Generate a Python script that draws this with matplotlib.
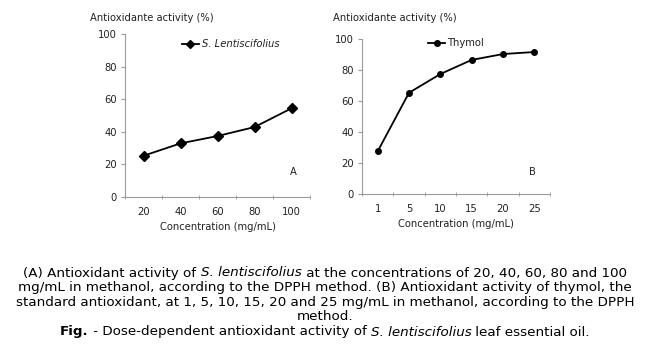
import matplotlib
matplotlib.use("Agg")
import matplotlib.pyplot as plt
from matplotlib.ticker import FixedLocator, NullFormatter

# Data
conc_a = ["20", "40", "60", "80", "100"]
act_a = [25.3, 32.9, 37.4, 42.9, 54.4]
conc_b = ["1", "5", "10", "15", "20", "25"]
act_b = [27.5, 65.3, 77.4, 86.5, 90.3, 91.6]
yticks = [0, 20, 40, 60, 80, 100]

fig = plt.figure(figsize=(6.5, 3.54), dpi=100)
W, H = 650, 354

def add_axes(l, r, t, b):
    return fig.add_axes([l / W, 1 - b / H, (r - l) / W, (b - t) / H])

axc = "#9a9a9a"
tc = "#222222"
fs = 7.2

def style(ax, cats):
    for s in ["top", "right"]:
        ax.spines[s].set_visible(False)
    for s in ["left", "bottom"]:
        ax.spines[s].set_color(axc)
        ax.spines[s].set_linewidth(0.8)
    ax.set_ylim(0, 100)
    ax.set_yticks(yticks)
    ax.set_xlim(-0.5, len(cats) - 0.5)
    ax.set_xticks(range(len(cats)))
    ax.set_xticklabels(cats)
    ax.xaxis.set_minor_locator(FixedLocator([i + 0.5 for i in range(-1, len(cats))]))
    ax.xaxis.set_minor_formatter(NullFormatter())
    ax.tick_params(axis="x", which="major", length=0, labelsize=fs, labelcolor=tc, pad=7)
    ax.tick_params(axis="x", which="minor", length=3, color=axc, direction="inout")
    ax.tick_params(axis="y", length=3, color=axc, labelsize=fs, labelcolor=tc, pad=3)
    ax.set_xlabel("Concentration (mg/mL)", fontsize=fs, color=tc, labelpad=4)

# Panel A
axA = add_axes(125, 310, 34, 197)
style(axA, conc_a)
xa = list(range(len(conc_a)))
axA.plot(xa, act_a, color="black", lw=1.3, marker="D", ms=5)
fig.text(90 / W, 1 - 18 / H, "Antioxidante activity (%)", fontsize=fs, color=tc, va="center", ha="left")
fig.lines.append(plt.Line2D([182 / W, 199 / W], [1 - 44 / H] * 2, color="black", lw=1.3, transform=fig.transFigure))
fig.lines.append(plt.Line2D([190 / W], [1 - 44 / H], color="black", marker="D", ms=4.5, transform=fig.transFigure))
fig.text(202 / W, 1 - 44 / H, "S. Lentiscifolius", fontsize=fs, style="italic", color=tc, va="center", ha="left")
fig.text(293 / W, 1 - 172 / H, "A", fontsize=fs, color=tc, va="center", ha="center")

# Panel B
axB = add_axes(362, 550, 39, 194)
style(axB, conc_b)
xb = list(range(len(conc_b)))
axB.plot(xb, act_b, color="black", lw=1.3, marker="o", ms=4)
fig.text(333 / W, 1 - 18 / H, "Antioxidante activity (%)", fontsize=fs, color=tc, va="center", ha="left")
fig.lines.append(plt.Line2D([428 / W, 445 / W], [1 - 43 / H] * 2, color="black", lw=1.3, transform=fig.transFigure))
fig.lines.append(plt.Line2D([437 / W], [1 - 43 / H], color="black", marker="o", ms=4, transform=fig.transFigure))
fig.text(447 / W, 1 - 43 / H, "Thymol", fontsize=fs, color=tc, va="center", ha="left")
fig.text(532 / W, 1 - 172 / H, "B", fontsize=fs, color=tc, va="center", ha="center")

# Caption with mixed styles
caption = [
    (273, [("(A) Antioxidant activity of ", "normal", "normal"), ("S. lentiscifolius", "italic", "normal"),
           (" at the concentrations of 20, 40, 60, 80 and 100", "normal", "normal")]),
    (288, [("mg/mL in methanol, according to the DPPH method. (B) Antioxidant activity of thymol, the", "normal", "normal")]),
    (302.5, [("standard antioxidant, at 1, 5, 10, 15, 20 and 25 mg/mL in methanol, according to the DPPH", "normal", "normal")]),
    (317, [("method.", "normal", "normal")]),
    (332, [("Fig.", "normal", "bold"), (" - Dose-dependent antioxidant activity of ", "normal", "normal"),
           ("S. lentiscifolius", "italic", "normal"), (" leaf essential oil.", "normal", "normal")]),
]
fs_cap = 9.7
fig.canvas.draw()
renderer = fig.canvas.get_renderer()
for ypix, segs in caption:
    texts = []
    for s, st, wt in segs:
        t = fig.text(0, 1 - ypix / H, s, fontsize=fs_cap, style=st, weight=wt, color="black", va="center", ha="left")
        texts.append(t)
    widths = [t.get_window_extent(renderer).width for t in texts]
    total = sum(widths)
    x = (W / 2) - total / 2
    for t, w in zip(texts, widths):
        t.set_x(x / W)
        x += w

fig.savefig("out.png", dpi=100)
